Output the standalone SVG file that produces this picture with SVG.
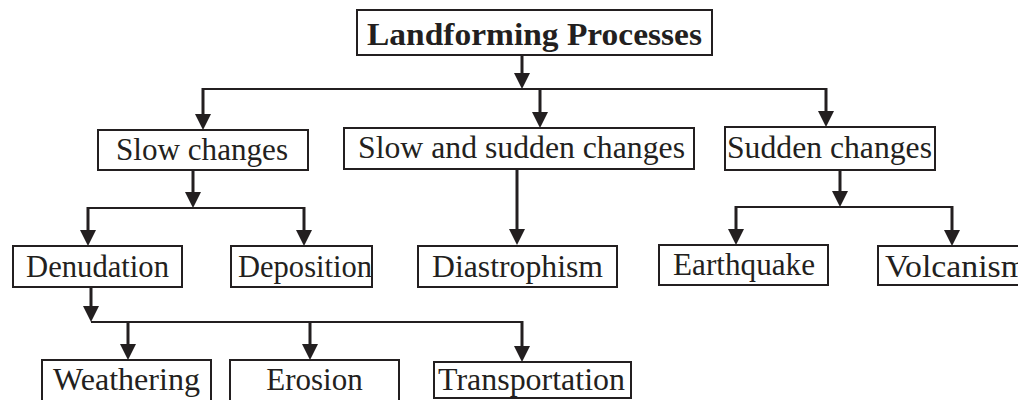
<svg xmlns="http://www.w3.org/2000/svg" width="1018" height="400" viewBox="0 0 1018 400">
<defs>
<style>
.box{fill:#fff;stroke:#231f20;stroke-width:2}
.lbl{font-family:"Liberation Serif","Times New Roman",serif;font-size:31px;fill:#231f20;text-anchor:middle}
.title{font-weight:bold;font-size:32px}
.v{stroke:#231f20;stroke-width:3;fill:none;marker-end:url(#ah)}
.h{stroke:#231f20;stroke-width:2.2;fill:none}
</style>
<marker id="ah" viewBox="0 0 16 16" refX="8" refY="8" markerWidth="16" markerHeight="16" markerUnits="userSpaceOnUse" orient="auto">
<path d="M0,0 L16,8 L0,16 Z" fill="#231f20"/>
</marker>
</defs>
<rect width="1018" height="400" fill="#fff"/>
<g id="connectors">
<line class="v" x1="522" y1="55" x2="522" y2="81"/>
<line class="h" x1="203" y1="89" x2="826" y2="89"/>
<line class="v" x1="203" y1="88" x2="203" y2="122"/>
<line class="v" x1="540" y1="88" x2="540" y2="120"/>
<line class="v" x1="826" y1="88" x2="826" y2="119"/>
<line class="v" x1="193" y1="170" x2="193" y2="200"/>
<line class="h" x1="88" y1="208" x2="304" y2="208"/>
<line class="v" x1="88" y1="207" x2="88" y2="238"/>
<line class="v" x1="304" y1="207" x2="304" y2="238"/>
<line class="v" x1="517" y1="169" x2="517" y2="237"/>
<line class="v" x1="840" y1="170" x2="840" y2="199"/>
<line class="h" x1="736" y1="207" x2="952" y2="207"/>
<line class="v" x1="736" y1="206" x2="736" y2="237"/>
<line class="v" x1="952" y1="206" x2="952" y2="238"/>
<line class="v" x1="91" y1="287" x2="91" y2="314"/>
<line class="h" x1="91" y1="322" x2="522" y2="322"/>
<line class="v" x1="128" y1="321" x2="128" y2="352"/>
<line class="v" x1="310" y1="321" x2="310" y2="352"/>
<line class="v" x1="522" y1="321" x2="522" y2="354"/>
</g>
<g id="landforming-processes">
<rect class="box" x="357" y="10" width="355" height="45"/>
<text class="lbl title" x="534.5" y="45" textLength="335" lengthAdjust="spacingAndGlyphs">Landforming Processes</text>
</g>
<g id="slow-changes">
<rect class="box" x="98" y="130" width="210" height="40"/>
<text class="lbl" x="202" y="160" textLength="172" lengthAdjust="spacingAndGlyphs">Slow changes</text>
</g>
<g id="slow-and-sudden-changes">
<rect class="box" x="344" y="128" width="350" height="41"/>
<text class="lbl" x="521.5" y="158" textLength="327" lengthAdjust="spacingAndGlyphs">Slow and sudden changes</text>
</g>
<g id="sudden-changes">
<rect class="box" x="725" y="127" width="210" height="43"/>
<text class="lbl" x="829.5" y="158" textLength="205" lengthAdjust="spacingAndGlyphs">Sudden changes</text>
</g>
<g id="denudation">
<rect class="box" x="13" y="246" width="169" height="41"/>
<text class="lbl" x="97.5" y="277" textLength="143" lengthAdjust="spacingAndGlyphs">Denudation</text>
</g>
<g id="deposition">
<rect class="box" x="231" y="246" width="141" height="41"/>
<text class="lbl" x="305" y="277" textLength="134" lengthAdjust="spacingAndGlyphs">Deposition</text>
</g>
<g id="diastrophism">
<rect class="box" x="418" y="246" width="199" height="41"/>
<text class="lbl" x="517.5" y="277" textLength="171" lengthAdjust="spacingAndGlyphs">Diastrophism</text>
</g>
<g id="earthquake">
<rect class="box" x="659" y="245" width="169" height="40"/>
<text class="lbl" x="744" y="275" textLength="142" lengthAdjust="spacingAndGlyphs">Earthquake</text>
</g>
<g id="volcanism">
<rect class="box" x="878" y="246" width="160" height="39"/>
<text class="lbl" x="885" y="277" style="text-anchor:start" textLength="142" lengthAdjust="spacingAndGlyphs">Volcanism</text>
</g>
<g id="weathering">
<rect class="box" x="42" y="360" width="169" height="45"/>
<text class="lbl" x="126.5" y="390" textLength="147" lengthAdjust="spacingAndGlyphs">Weathering</text>
</g>
<g id="erosion">
<rect class="box" x="230" y="360" width="169" height="42"/>
<text class="lbl" x="314.5" y="390">Erosion</text>
</g>
<g id="transportation">
<rect class="box" x="434" y="362" width="197" height="36"/>
<text class="lbl" x="531.5" y="390" textLength="187" lengthAdjust="spacingAndGlyphs">Transportation</text>
</g>
</svg>
